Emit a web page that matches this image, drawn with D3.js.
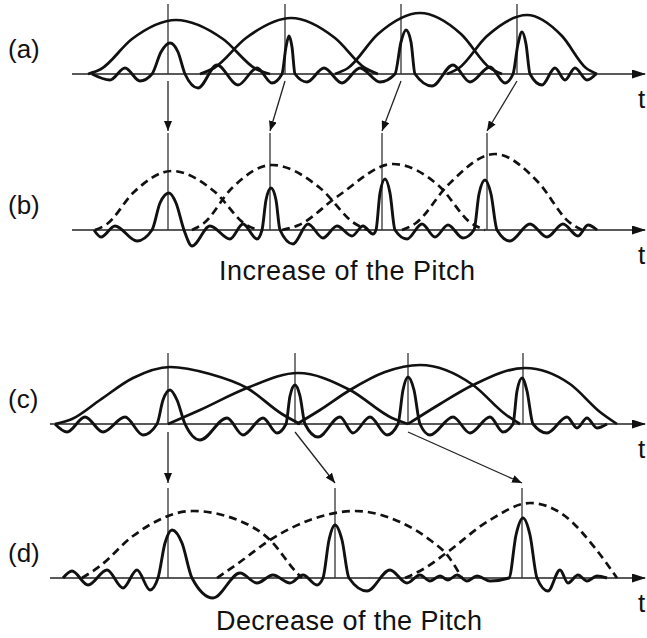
<!DOCTYPE html>
<html><head><meta charset="utf-8">
<script src="https://cdn.jsdelivr.net/npm/d3@7"></script>
<style>body{margin:0;background:#fff}svg{display:block}</style>
</head><body><svg id="chart" width="647" height="638"></svg>
<script>
// ---------- data (time t, amplitude) ----------
const panelLabels = ["(a)", "(b)", "(c)", "(d)"];
const captions = ["Increase of the Pitch", "Decrease of the Pitch"];
const axisLabel = "t";

// pitch marks (time)
const marksA = [128, 245, 361, 477];
const marksB = [128, 230, 342, 447];
const marksC = [128, 255, 368, 483];
const marksD = [128, 295, 482];

// speech signal: points [t, amplitude]
const waveA = [[52,0],[70,-6],[85,6],[100,-7],[112,0],[121,22],[130,31],[138,22],[145,0],[158,-14],[177,9],[198,-11],[217,6],[232,-9],[242,0],[246,27],[249,38],[252,27],[255,0],[267,-8],[284,6],[302,-9],[320,6],[340,-8],[355,0],[361,32],[366,44],[371,32],[375,0],[392,-12],[413,9],[430,-8],[450,7],[465,-9],[473,0],[478,30],[482,42],[486,30],[490,0],[502,-11],[515,6],[525,-6],[535,6],[547,-6],[556,0]];
const waveB = [[54,0],[61,-7],[75,4],[97,-11],[112,0],[120,27],[129,37],[136,27],[144,0],[152,-16],[170,4],[190,-9],[203,6],[217,-9],[222,0],[226,30],[231,42],[236,30],[240,0],[253,-14],[268,6],[283,-8],[297,4],[312,-6],[323,4],[333,-4],[336,0],[340,37],[345,51],[350,37],[355,0],[367,-9],[382,6],[395,-7],[408,5],[423,-8],[434,0],[439,36],[445,50],[451,36],[457,0],[470,-11],[490,6],[507,-7],[523,6],[538,-6],[548,5],[557,0]];
const waveC = [[15,0],[27,-8],[45,7],[63,-8],[85,7],[103,-11],[117,0],[123,24],[130,34],[137,24],[145,0],[160,-16],[187,6],[203,-11],[223,6],[237,-9],[246,0],[250,28],[255,39],[260,28],[265,0],[278,-13],[300,7],[313,-9],[330,7],[347,-11],[358,0],[363,34],[368,47],[374,34],[380,0],[390,-11],[413,7],[430,-9],[450,7],[463,-8],[473,0],[477,33],[482,46],[487,33],[493,0],[507,-9],[527,7],[537,-4],[547,6],[557,-4],[567,0]];
const waveD = [[23,0],[32,7],[48,-7],[67,8],[83,-10],[97,8],[110,-12],[118,0],[125,35],[132,48],[142,35],[152,0],[173,-20],[200,5],[217,-5],[233,3],[250,-5],[263,3],[277,-7],[283,0],[289,38],[295,53],[302,38],[309,0],[327,-13],[350,8],[367,-5],[380,3],[390,-3],[400,2],[408,-2],[417,3],[427,-3],[437,2],[450,-3],[469,0],[476,43],[483,60],[490,43],[497,0],[508,-13],[520,8],[528,-5],[538,3],[547,-3],[557,2],[567,0]];

// analysis / synthesis windows
const windowsA = [
  [[48,0],[61,5],[92,35],[136,54],[183,35],[216,5],[230,0]],
  [[160,0],[174,6],[206,36],[251,56],[295,36],[325,6],[338,0]],
  [[295,0],[308,6],[338,40],[380,61],[421,40],[450,6],[462,0]],
  [[407,0],[419,6],[447,38],[487,59],[522,38],[546,6],[557,0]]
];
const windowsB = [
  [[55,0],[67,6],[94,38],[132,59],[175,38],[205,6],[218,0]],
  [[152,0],[164,7],[192,42],[232,65],[280,42],[314,7],[328,0]],
  [[242,0],[259,5],[298,34],[353,66],[399,44],[431,7],[445,0]],
  [[362,0],[376,7],[408,45],[455,76],[498,48],[529,8],[542,0]]
];
const windowsC = [
  [[15,0],[32,5],[60,24],[93,46],[130,57],[170,50],[207,36],[242,10],[260,0]],
  [[128,0],[160,14],[207,36],[258,51],[310,34],[352,6],[368,0]],
  [[257,0],[280,14],[310,34],[345,52],[380,59],[433,39],[465,10],[480,0]],
  [[368,0],[400,20],[433,39],[485,56],[530,40],[560,12],[577,0]]
];
const windowsD = [
  [[42,0],[60,12],[93,42],[153,67],[195,59],[230,38],[257,5],[262,0]],
  [[177,0],[200,16],[230,38],[270,58],[315,67],[360,56],[390,38],[408,22],[422,0]],
  [[365,0],[385,10],[405,24],[450,58],[490,75],[525,62],[555,30],[577,0]]
];

// mapping of pitch marks between panels [source index, target index]
const mapAB = [[0,0],[1,1],[2,2],[3,3]];
const mapCD = [[0,0],[1,1],[2,2]];

// ---------- layout ----------
const svg = d3.select("#chart");
const x = d3.scaleLinear().domain([0, 605]).range([40, 645]);
const font = "'Liberation Sans', Arial, Helvetica, sans-serif";

const panels = [
  {label: panelLabels[0], marks: marksA, wave: waveA, windows: windowsA, dashed: false, axisY: 74,  axisStart: 32, markTop: 70},
  {label: panelLabels[1], marks: marksB, wave: waveB, windows: windowsB, dashed: true,  axisY: 230, axisStart: 32, markTop: 97},
  {label: panelLabels[2], marks: marksC, wave: waveC, windows: windowsC, dashed: false, axisY: 424, axisStart: 10, markTop: 71},
  {label: panelLabels[3], marks: marksD, wave: waveD, windows: windowsD, dashed: true,  axisY: 578, axisStart: 10, markTop: 90}
];
panels.forEach(p => {
  p.y = d3.scaleLinear().domain([-30, 100]).range([p.axisY + 30, p.axisY - 100]);
});

const defs = svg.append("defs");
defs.append("marker").attr("id", "ah").attr("viewBox", "0 0 10 8")
  .attr("refX", 10).attr("refY", 4).attr("markerWidth", 10).attr("markerHeight", 8)
  .attr("markerUnits", "userSpaceOnUse").attr("orient", "auto")
  .append("path").attr("d", "M0,0L10,4L0,8Z").attr("fill", "#111");
defs.append("marker").attr("id", "axh").attr("viewBox", "0 0 14 9")
  .attr("refX", 13).attr("refY", 4.5).attr("markerWidth", 14).attr("markerHeight", 9)
  .attr("markerUnits", "userSpaceOnUse").attr("orient", "auto")
  .append("path").attr("d", "M0,0L14,4.5L0,9Z").attr("fill", "#111");

panels.forEach(p => {
  const g = svg.append("g");
  const line = d3.line().x(d => x(d[0])).y(d => p.y(d[1])).curve(d3.curveMonotoneX);

  // axis
  g.append("line")
    .attr("x1", x(p.axisStart)).attr("x2", x(605))
    .attr("y1", p.y(0)).attr("y2", p.y(0))
    .attr("stroke", "#222").attr("stroke-width", 1.6)
    .attr("marker-end", "url(#axh)");

  // pitch marks
  g.selectAll("line.mark").data(p.marks).enter().append("line")
    .attr("class", "mark")
    .attr("x1", d => x(d)).attr("x2", d => x(d))
    .attr("y1", p.y(0)).attr("y2", p.y(p.markTop))
    .attr("stroke", "#333").attr("stroke-width", 1.3);

  // windows
  g.selectAll("path.win").data(p.windows).enter().append("path")
    .attr("class", "win")
    .attr("d", line)
    .attr("fill", "none").attr("stroke", "#111").attr("stroke-width", 2.7)
    .attr("stroke-dasharray", p.dashed ? "8,5" : null)
    .attr("stroke-linecap", "butt");

  // signal
  g.append("path").datum(p.wave)
    .attr("d", line)
    .attr("fill", "none").attr("stroke", "#111").attr("stroke-width", 2.9)
    .attr("stroke-linejoin", "round");

  // labels
  g.append("text").attr("x", 8).attr("y", p.axisY - 16)
    .attr("font-family", font).attr("font-size", 26).attr("fill", "#111")
    .text(p.label);
  g.append("text").attr("x", 638).attr("y", p.axisY + 34)
    .attr("font-family", font).attr("font-size", 26).attr("fill", "#111")
    .text(axisLabel);
});

// arrows between panels
function arrows(src, dst, map, y0, y1) {
  svg.append("g").selectAll("line").data(map).enter().append("line")
    .attr("x1", d => x(src.marks[d[0]])).attr("y1", src.y(y0))
    .attr("x2", d => x(dst.marks[d[1]])).attr("y2", dst.y(y1))
    .attr("stroke", "#222").attr("stroke-width", 1.3)
    .attr("marker-end", "url(#ah)");
}
arrows(panels[0], panels[1], mapAB, -7, 99);
arrows(panels[2], panels[3], mapCD, -8, 95);

// captions
svg.append("text").attr("x", 219).attr("y", panels[1].axisY + 50)
  .attr("font-family", font).attr("font-size", 27).attr("fill", "#111")
  .attr("textLength", 256).attr("lengthAdjust", "spacing")
  .text(captions[0]);
svg.append("text").attr("x", 216).attr("y", panels[3].axisY + 52)
  .attr("font-family", font).attr("font-size", 27).attr("fill", "#111")
  .attr("textLength", 266).attr("lengthAdjust", "spacing")
  .text(captions[1]);
</script>
</body></html>
